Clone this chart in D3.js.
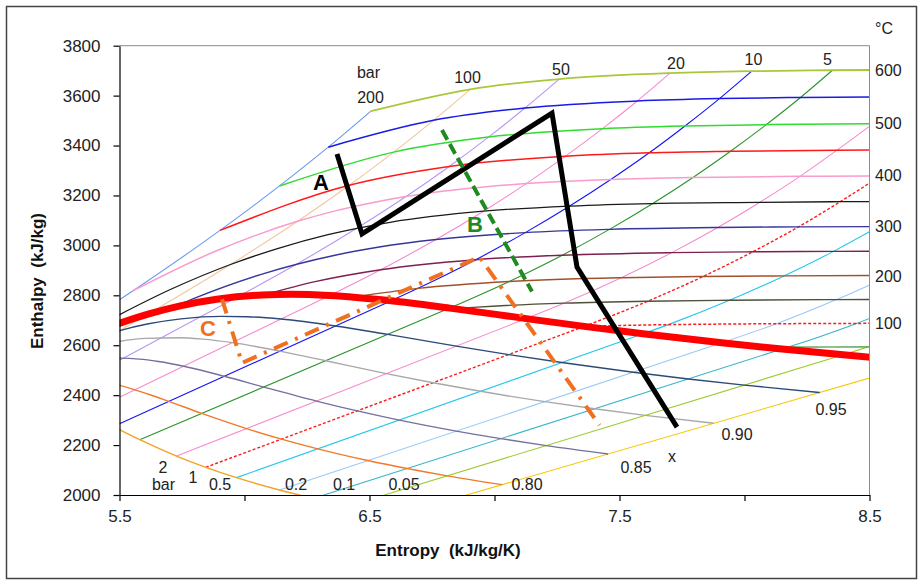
<!DOCTYPE html>
<html>
<head>
<meta charset="utf-8">
<script src="https://cdn.jsdelivr.net/npm/d3@7"></script>
<style>
  body { margin: 0; background: #fff; }
  svg { font-family: "Liberation Sans", Arial, sans-serif; }
</style>
</head>
<body>
<div id="container"></div>
<script>
/* DATA - every curve is a list of [entropy kJ/kg/K, enthalpy kJ/kg] */

// isobars (bar). wet ones: 1st point = start of the straight wet line, 2nd = saturated vapour
const bar200 = [[5.5, 2782], [5.554, 2818.1], [5.902, 3060.1], [6.140, 3238.2], [6.335, 3393.5], [6.505, 3537.6]]
const bar100 = [[5.5, 2658], [5.614, 2724.7], [5.944, 2923.4], [6.212, 3096.5], [6.419, 3240.9], [6.597, 3373.7], [6.756, 3500.9], [6.903, 3625.3]]
const bar50 = [[5.5, 2540], [5.973, 2794.3], [6.208, 2924.5], [6.449, 3068.4], [6.646, 3195.7], [6.819, 3316.2], [6.976, 3433.8], [7.122, 3550.3], [7.259, 3666.5]]
const bar20 = [[5.5, 2391.2], [6.341, 2799.5], [6.545, 2902.5], [6.766, 3023.5], [6.956, 3137.0], [7.127, 3247.6], [7.284, 3357.5], [7.432, 3467.6], [7.571, 3578.3], [7.702, 3690.1]]
const bar10 = [[5.5, 2285.9], [6.587, 2778.1], [6.694, 2827.9], [6.925, 2942.6], [7.123, 3051.2], [7.301, 3157.7], [7.465, 3263.9], [7.619, 3371], [7.762, 3478.5], [7.900, 3588], [8.029, 3697.9]]
const bar5 = [[5.581, 2221.6], [6.821, 2748.7], [7.059, 2855.4], [7.271, 2960.7], [7.460, 3064.2], [7.633, 3167.7], [7.794, 3271.9], [7.944, 3377], [8.087, 3483.9], [8.224, 3592.6], [8.352, 3701.7]]
const bar2 = [[5.728, 2156.1], [7.127, 2706.7], [7.280, 2768.8], [7.507, 2870.5], [7.709, 2971.0], [7.893, 3071.8], [8.060, 3172], [8.222, 3276.6], [8.370, 3381.5], [8.513, 3487.1]]
const bar1 = [[5.845, 2111.0], [7.359, 2675.5], [7.613, 2776.4], [7.834, 2875.3], [8.033, 2974.3], [8.216, 3074.3], [8.383, 3175], [8.544, 3278.2]]
const bar05 = [[5.968, 2069.6], [7.594, 2645.9], [7.695, 2682.5], [7.940, 2780.1], [8.158, 2877.7], [8.356, 2976.0], [8.537, 3075.5]]
const bar02 = [[6.140, 2020.1], [7.909, 2609.7], [8.128, 2686.2], [8.368, 2782.9], [8.584, 2879.5]]
const bar01 = [[6.275, 1986.4], [8.150, 2584.7], [8.175, 2592.6], [8.448, 2687.5], [8.688, 2783.0]]
const bar005 = [[6.415, 1955.6], [8.395, 2561.5], [8.495, 2593.4], [8.768, 2688.4]]
const bar002 = [[6.608, 1918.5], [8.724, 2533.5]]

// isotherms (deg C)
const t600 = [[6.505, 3537.6], [6.903, 3625.3], [7.259, 3666.5], [7.702, 3690.1], [8.029, 3697.9], [8.352, 3701.7], [8.777, 3704.3]]
const t550 = [[6.335, 3393.5], [6.756, 3500.9], [7.122, 3550.3], [7.571, 3578.3], [7.900, 3588], [8.224, 3592.6], [8.645, 3596]]
const t500 = [[6.140, 3238.2], [6.597, 3373.7], [6.976, 3433.8], [7.432, 3467.6], [7.762, 3478.5], [8.087, 3483.9], [8.513, 3487.1]]
const t450 = [[5.902, 3060.1], [6.419, 3240.9], [6.819, 3316.2], [7.284, 3357.5], [7.619, 3371], [7.944, 3377], [8.370, 3381.5], [8.693, 3383]]
const t400 = [[5.554, 2818.1], [5.881, 2975.5], [6.212, 3096.5], [6.363, 3138.3], [6.541, 3177.2], [6.769, 3213.6], [7.127, 3247.6], [7.465, 3263.9], [7.794, 3271.9], [8.222, 3276.6], [8.544, 3278.2]]
const t350 = [[5.442, 2692.4], [5.710, 2826.2], [5.944, 2923.4], [6.132, 2987.3], [6.334, 3043.0], [6.582, 3092.5], [6.956, 3137.0], [7.301, 3157.7], [7.633, 3167.7], [8.060, 3172], [8.383, 3175], [8.700, 3176.5]]
const t300 = [[5.705, 2749.0], [5.791, 2785.0], [6.067, 2884.2], [6.362, 2960.7], [6.539, 2993.5], [6.766, 3023.5], [7.123, 3051.2], [7.460, 3064.2], [7.893, 3071.8], [8.216, 3074.3], [8.537, 3075.5]]
const t250 = [[6.073, 2801.0], [6.287, 2855.8], [6.545, 2902.5], [6.925, 2942.6], [7.271, 2960.7], [7.709, 2971.0], [8.033, 2974.3], [8.356, 2976.0], [8.680, 2977]]
const t200 = [[6.432, 2792.8], [6.694, 2827.9], [7.059, 2855.4], [7.507, 2870.5], [7.834, 2875.3], [8.158, 2877.7], [8.584, 2879.5]]
const t150 = [[6.838, 2746.5], [6.930, 2752.8], [7.280, 2768.8], [7.613, 2776.4], [7.940, 2780.1], [8.368, 2782.9], [8.688, 2783.0]]
const t100 = [[7.355, 2676.1], [7.695, 2682.5], [8.128, 2686.2], [8.448, 2687.5], [8.768, 2688.4]]
const t50 = [[8.076, 2592.1], [8.175, 2592.6], [8.495, 2593.4], [8.820, 2593.9]]

// lines of constant dryness fraction x
const x095 = [[5.393, 2625.2], [5.501, 2658.8], [5.616, 2685.9], [5.746, 2705.8], [5.906, 2715.7], [6.010, 2714.3], [6.146, 2705.0], [6.364, 2677.3], [6.573, 2643.3], [6.847, 2596.5], [7.057, 2562.6], [7.269, 2530.6], [7.555, 2491.8], [7.775, 2465.0], [7.999, 2440.3], [8.301, 2410.5]]
const x090 = [[5.389, 2593.0], [5.490, 2613.8], [5.603, 2627.3], [5.743, 2630.0], [5.833, 2624.5], [5.952, 2610.4], [6.142, 2576.6], [6.325, 2537.9], [6.567, 2486.4], [6.754, 2449.7], [6.944, 2415.4], [7.201, 2373.9], [7.400, 2345.3], [7.603, 2319.1], [7.877, 2287.5]]
const x085 = [[5.363, 2541.7], [5.460, 2548.7], [5.579, 2544.3], [5.656, 2534.7], [5.757, 2515.9], [5.919, 2475.8], [6.077, 2432.4], [6.288, 2376.3], [6.451, 2336.8], [6.619, 2300.1], [6.847, 2256.0], [7.025, 2225.7], [7.207, 2197.9], [7.454, 2164.5]]
const x080 = [[5.415, 2458.6], [5.479, 2445.0], [5.562, 2421.4], [5.619, 2402.7], [5.697, 2375.0], [5.829, 2327.0], [6.008, 2266.2], [6.148, 2223.9], [6.293, 2184.8], [6.493, 2138.0], [6.650, 2106.1], [6.811, 2076.8], [7.031, 2041.5]]
const x075 = [[5.368, 2326.8], [5.412, 2305.4], [5.475, 2274.3], [5.581, 2221.6], [5.728, 2156.1], [5.845, 2111.0], [5.968, 2069.6], [6.140, 2020.1], [6.275, 1986.4]]
const satVapour = [[5.310, 2610.5], [5.492, 2684.9], [5.614, 2724.7], [5.743, 2758.0], [5.889, 2784.3], [6.070, 2801.4], [6.187, 2804.2], [6.341, 2799.5], [6.587, 2778.1], [6.821, 2748.7], [7.127, 2706.7], [7.359, 2675.5], [7.594, 2645.9], [7.909, 2609.7], [8.150, 2584.7], [8.395, 2561.5], [8.578, 2545.5]]

// the three process lines
const cycleA = [[6.37, 3366], [6.47, 3046], [7.23, 3530], [7.33, 2913], [7.73, 2272]]
const cycleB = [[6.79, 3462], [7.15, 2815]]
const cycleC = [[5.91, 2785], [5.99, 2529], [6.94, 2954], [7.42, 2280]]

// labels
const topPressureLabels = ["200", "100", "50", "20", "10", "5"]
const rightTempLabels = ["600", "500", "400", "300", "200", "100"]
const bottomPressureLabels = ["1", "0.5", "0.2", "0.1", "0.05"]
const qualityLabels = ["0.80", "0.85", "0.90", "0.95"]
const xTicks = [5.5, 6, 6.5, 7, 7.5, 8, 8.5]
const yTicks = [2000, 2200, 2400, 2600, 2800, 3000, 3200, 3400, 3600, 3800]

/* CHART */
const width = 921, height = 580
const plot = { left: 119.5, right: 869.5, top: 45.7, bottom: 495 }

const xScale = d3.scaleLinear().domain([5.5, 8.5]).range([plot.left, plot.right])
const yScale = d3.scaleLinear().domain([2000, 3800]).range([plot.bottom, plot.top])

const svg = d3.select("#container")
  .append("svg")
  .attr("width", width)
  .attr("height", height)

// outer frame
svg.append("rect")
  .attr("x", 6.5).attr("y", 6.5)
  .attr("width", 910).attr("height", 572)
  .attr("fill", "#fff")
  .attr("stroke", "#444")
  .attr("stroke-width", 1.5)

svg.append("clipPath").attr("id", "clip")
  .append("rect")
  .attr("x", plot.left).attr("y", plot.top)
  .attr("width", plot.right - plot.left).attr("height", plot.bottom - plot.top)

const smooth = d3.line().x(d => xScale(d[0])).y(d => yScale(d[1])).curve(d3.curveMonotoneX)
const straight = d3.line().x(d => xScale(d[0])).y(d => yScale(d[1]))

// wet part of an isobar is straight, then the superheated curve
const isobarPath = (pts, wet) => wet
  ? straight(pts.slice(0, 2)) + (pts.length > 2 ? smooth(pts.slice(1)) : "")
  : smooth(pts)

const g = svg.append("g").attr("clip-path", "url(#clip)")

const isobars = [
  { d: bar200, wet: false, c: "#6a98f0" },
  { d: bar100, wet: true, c: "#f3c79c" },
  { d: bar50, wet: true, c: "#b996f5" },
  { d: bar20, wet: true, c: "#f68bcf" },
  { d: bar10, wet: true, c: "#1515f5" },
  { d: bar5, wet: true, c: "#2a942a" },
  { d: bar2, wet: true, c: "#f68bcf" },
  { d: bar1, wet: true, c: "#ff1a1a", dash: "3,2", w: 1.4 },
  { d: bar05, wet: true, c: "#22c8ea" },
  { d: bar02, wet: true, c: "#9cc8f5" },
  { d: bar01, wet: true, c: "#35b5c8" },
  { d: bar005, wet: true, c: "#9ccc30" },
  { d: bar002, wet: true, c: "#f5c800" }
]

const isotherms = [
  { d: t600, c: "#a8c83a", w: 1.8 },
  { d: t550, c: "#1a1ae6", w: 1.5 },
  { d: t500, c: "#30dc30", w: 1.5 },
  { d: t450, c: "#ff1a1a", w: 1.5 },
  { d: t400, c: "#f79ccc", w: 1.5 },
  { d: t350, c: "#1a1a1a", w: 1.3 },
  { d: t300, c: "#36369a", w: 1.4 },
  { d: t250, c: "#7d1f50", w: 1.4 },
  { d: t200, c: "#a0502c", w: 1.4 },
  { d: t150, c: "#4f4f3a", w: 1.4 },
  { d: t100, c: "#ff1a1a", w: 1.5, dash: "3,2" },
  { d: t50, c: "#6cae6c", w: 1.6 }
]

const qualities = [
  { d: x075, c: "#f2a227" },
  { d: x080, c: "#f07a2a" },
  { d: x085, c: "#74709e" },
  { d: x090, c: "#a8a8a8" },
  { d: x095, c: "#2c4a78" }
]

g.selectAll("path.isobar")
  .data(isobars)
  .join("path")
  .attr("class", "isobar")
  .attr("d", d => isobarPath(d.d, d.wet))
  .attr("fill", "none")
  .attr("stroke", d => d.c)
  .attr("stroke-width", d => d.w || 1.1)
  .attr("stroke-dasharray", d => d.dash || null)

g.selectAll("path.quality")
  .data(qualities)
  .join("path")
  .attr("class", "quality")
  .attr("d", d => smooth(d.d))
  .attr("fill", "none")
  .attr("stroke", d => d.c)
  .attr("stroke-width", 1.4)

g.selectAll("path.isotherm")
  .data(isotherms)
  .join("path")
  .attr("class", "isotherm")
  .attr("d", d => smooth(d.d))
  .attr("fill", "none")
  .attr("stroke", d => d.c)
  .attr("stroke-width", d => d.w)
  .attr("stroke-dasharray", d => d.dash || null)

// saturated vapour line x = 1
g.append("path")
  .attr("d", smooth(satVapour))
  .attr("fill", "none")
  .attr("stroke", "#ff0000")
  .attr("stroke-width", 7)

// process lines
g.append("path")
  .attr("d", straight(cycleA))
  .attr("fill", "none")
  .attr("stroke", "#000")
  .attr("stroke-width", 5)
  .attr("stroke-linejoin", "miter")

g.append("path")
  .attr("d", straight(cycleB))
  .attr("fill", "none")
  .attr("stroke", "#1f8a1f")
  .attr("stroke-width", 4)
  .attr("stroke-dasharray", "11,5")

g.append("path")
  .attr("d", straight(cycleC))
  .attr("fill", "none")
  .attr("stroke", "#f07020")
  .attr("stroke-width", 4)
  .attr("stroke-dasharray", "15,8,3,8")

// plot border (top and right)
svg.append("path")
  .attr("d", `M${plot.left},${plot.top}H${plot.right}V${plot.bottom}`)
  .attr("fill", "none")
  .attr("stroke", "#8c8c8c")
  .attr("stroke-width", 1)

// AXES
const xAxis = d3.axisBottom(xScale)
  .tickValues(xTicks)
  .tickSize(6)
  .tickSizeOuter(0)
  .tickPadding(9)
  .tickFormat(d => (d * 2) % 2 === 1 ? d3.format(".1f")(d) : "")

const yAxis = d3.axisLeft(yScale)
  .tickValues(yTicks)
  .tickSize(6)
  .tickSizeOuter(0)
  .tickPadding(13)
  .tickFormat(d3.format("d"))

svg.append("g")
  .attr("transform", `translate(0,${plot.bottom})`)
  .call(xAxis)
  .call(a => a.selectAll("text").attr("font-size", 17).attr("fill", "#222").attr("font-family", null))

svg.append("g")
  .attr("transform", `translate(${plot.left},0)`)
  .call(yAxis)
  .call(a => a.selectAll("text").attr("font-size", 17).attr("fill", "#222").attr("font-family", null))

svg.selectAll(".domain, .tick line").attr("stroke", "#000").attr("stroke-width", 1.2)

svg.append("text")
  .attr("x", 448)
  .attr("y", 556)
  .attr("text-anchor", "middle")
  .attr("font-size", 17)
  .attr("font-weight", "bold")
  .attr("fill", "#111")
  .style("white-space", "pre")
  .text("Entropy  (kJ/kg/K)")

svg.append("text")
  .attr("transform", "translate(43,281) rotate(-90)")
  .attr("text-anchor", "middle")
  .attr("font-size", 17)
  .attr("font-weight", "bold")
  .attr("fill", "#111")
  .style("white-space", "pre")
  .text("Enthalpy  (kJ/kg)")

// LABELS (anchors in chart units)
const label = (txt, s, h, opts = {}) => svg.append("text")
  .attr("x", xScale(s))
  .attr("y", yScale(h))
  .attr("text-anchor", opts.anchor || "middle")
  .attr("dy", opts.dy || null)
  .attr("font-size", opts.size || 16)
  .attr("font-weight", opts.bold ? "bold" : null)
  .attr("fill", opts.fill || "#222")
  .text(txt)

const topAnchors = [[6.504, 3570.5], [6.892, 3650.6], [7.266, 3682.7], [7.726, 3706.7], [8.036, 3722.8], [8.332, 3722.8]]
topPressureLabels.forEach((t, i) => label(t, topAnchors[i][0], topAnchors[i][1]))
label("bar", 6.496, 3670.7)

const rightAnchors = [3703, 3490, 3280, 3077, 2878, 2688]
rightTempLabels.forEach((t, i) => label(t, 8.522, rightAnchors[i], { anchor: "start", dy: "0.36em" }))
label("°C", 8.522, 3846, { anchor: "start" })

label("2", 5.674, 2088)
label("bar", 5.676, 2020)
const bottomAnchors = [[5.794, 2048], [5.902, 2020], [6.206, 2020], [6.398, 2020], [6.638, 2020]]
bottomPressureLabels.forEach((t, i) => label(t, bottomAnchors[i][0], bottomAnchors[i][1]))

const qualityAnchors = [[7.13, 2020], [7.566, 2088], [7.97, 2220], [8.346, 2320.5]]
qualityLabels.forEach((t, i) => label(t, qualityAnchors[i][0], qualityAnchors[i][1]))
label("x", 7.71, 2132)

label("A", 6.306, 3222, { size: 22, bold: true, fill: "#000" })
label("B", 6.922, 3054, { size: 22, bold: true, fill: "#1f8a1f" })
label("C", 5.854, 2637, { size: 22, bold: true, fill: "#f07020" })
</script>
</body>
</html>
